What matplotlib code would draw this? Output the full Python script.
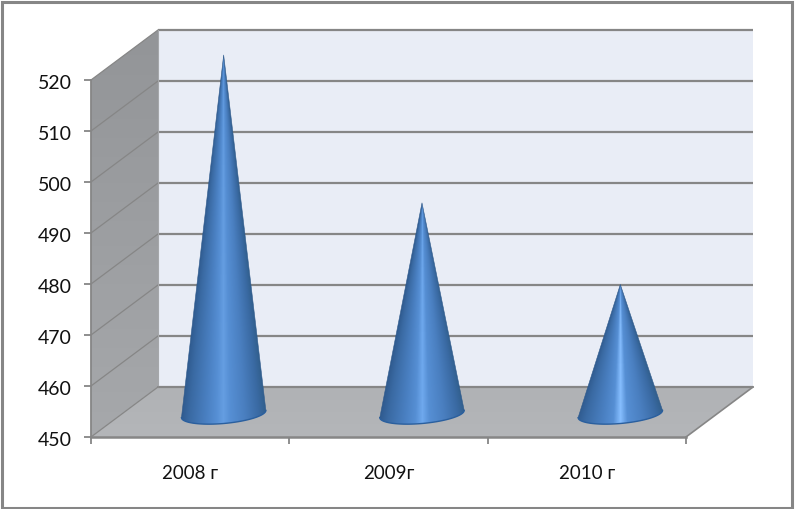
"""3D-look cone chart for 2008-2010, drawn on a flat axes with a depth shift."""

import numpy as np

import matplotlib

matplotlib.use("Agg")
import matplotlib.pyplot as plt
from matplotlib.colors import LinearSegmentedColormap
from matplotlib.patches import Polygon, Rectangle
from matplotlib.transforms import ScaledTranslation

plt.rcParams["font.family"] = ["Lato", "Open Sans", "DejaVu Sans"]

categories = ["2008 г", "2009г", "2010 г"]
values = [520, 491, 475]
value_ticks = [450, 460, 470, 480, 490, 500, 510, 520]
bright = ["#659ee2", "#6fa9ee", "#86beff"]

W, H = 795, 510
X0, Y0 = 91, 438          # pixel of category 0 / value 450
PX_CAT, PX_VAL = 198.33, 5.1
DX, DY = 67 / PX_CAT, 50 / PX_VAL   # depth shift of the back wall
R_A, R_AY = 42.2 / PX_CAT, 3.6 / PX_VAL   # tilted base ellipse
R_B = 9.5 / PX_VAL
BASE_DROP = 2 / PX_VAL    # base centre sits a little in front of mid depth

GREY = "#868686"
N = len(categories)
V0 = value_ticks[0]
V1 = value_ticks[-1]


def gradient_fill(ax, pts, top, bottom, zorder):
    # vertical gradient clipped to a polygon
    pts = np.array(pts)
    cmap = LinearSegmentedColormap.from_list("g", [top, bottom])
    im = ax.imshow(np.linspace(0, 1, 64)[:, None], cmap=cmap, aspect="auto",
                   origin="upper", zorder=zorder,
                   extent=(pts[:, 0].min(), pts[:, 0].max(), pts[:, 1].min(), pts[:, 1].max()))
    patch = Polygon(pts, closed=True, transform=ax.transData, fc="none", ec="none")
    ax.add_patch(patch)
    im.set_clip_path(patch)


def cone(ax, i, value, light):
    cx = i + 0.5 + DX / 2
    base = V0 + DY / 2 - BASE_DROP
    tip = value + DY / 2
    t = np.linspace(0, np.pi, 60)
    ex = cx + R_A * np.cos(t)
    ey = base + R_AY * np.cos(t) - R_B * np.sin(t)
    outline = np.vstack([[cx, tip], np.column_stack([ex, ey]), [cx, tip]])

    xs = np.linspace(cx - R_A * 1.05, cx + R_A * 1.05, 220)
    ys = np.linspace(base - R_B * 1.2, tip, 500)
    gx, gy = np.meshgrid(xs, ys)
    # stripes run from the tip down to the base, so shade by the slope from the tip
    u = (gx - cx) / np.maximum((tip - gy) / (tip - base), 1e-3) / R_A
    cmap = LinearSegmentedColormap.from_list("cone", [
        (0.0, "#2f5a8e"), (0.1, "#3a6aa3"), (0.3, "#4a80c2"),
        (0.42, "#568fd4"), (0.5, light), (0.58, "#568fd4"),
        (0.75, "#4a7fc0"), (0.92, "#3a6aa3"), (1.0, "#32608f")])
    im = ax.imshow(np.clip((u + 1) / 2, 0, 1), cmap=cmap, vmin=0, vmax=1, aspect="auto",
                   origin="lower", zorder=5,
                   extent=(xs[0], xs[-1], ys[0], ys[-1]))
    patch = Polygon(outline, closed=True, transform=ax.transData, fc="none", ec="none")
    ax.add_patch(patch)
    im.set_clip_path(patch)
    ax.plot(ex, ey, color="#2a5f9e", lw=1.0, zorder=6)
    ax.plot([ex[0], cx, ex[-1]], [ey[0], tip, ey[-1]], color="#2f5a8c", lw=0.4, zorder=6)


fig = plt.figure(figsize=(W / 100, H / 100), dpi=100)
ax = fig.add_axes([0, 0, 1, 1])
ax.patch.set_alpha(0)

# walls and floor
top = V1 + DY
gradient_fill(ax, [(DX, V0 + DY), (N + DX, V0 + DY), (N + DX, top), (DX, top)],
              "#e9edf6", "#e9edf6", 1)
gradient_fill(ax, [(0, V0), (DX, V0 + DY), (DX, top), (0, V1)], "#939598", "#a6a8ab", 1)
gradient_fill(ax, [(0, V0), (N, V0), (N + DX, V0 + DY), (DX, V0 + DY)], "#b0b2b5", "#b4b6b9", 1)

# gridlines
for v in value_ticks:
    ax.plot([DX, N + DX], [v + DY, v + DY], color=GREY, lw=1.6, zorder=2, solid_capstyle="butt")
    ax.plot([0, DX], [v, v + DY], color=GREY, lw=0.9, zorder=2)
ax.plot([DX, DX], [V0 + DY, top], color="#a5a7aa", lw=0.8, zorder=2)
ax.plot([DX, N + DX], [V0 + DY, V0 + DY], color=GREY, lw=1.2, zorder=2)
ax.plot([N, N + DX], [V0, V0 + DY], color=GREY, lw=1.2, zorder=2)

for i, (v, light) in enumerate(zip(values, bright)):
    cone(ax, i, v, light)

ax.set_xlim(-X0 / PX_CAT, (W - X0) / PX_CAT)
ax.set_ylim(V0 + (Y0 - H) / PX_VAL, V0 + Y0 / PX_VAL)

# real axes, moved into the figure
for name in ("top", "right"):
    ax.spines[name].set_visible(False)
ax.spines["left"].set_position(("data", 0))
ax.spines["bottom"].set_position(("data", V0))
ax.spines["left"].set_bounds(V0, V1)
ax.spines["bottom"].set_bounds(0, N)
ax.spines["left"].set_color(GREY)
ax.spines["bottom"].set_color(GREY)
ax.spines["left"].set_linewidth(1.3)
ax.spines["bottom"].set_linewidth(1.8)
ax.spines["left"].set_zorder(3)
ax.spines["bottom"].set_zorder(3)

ax.set_yticks(value_ticks)
ax.set_xticks(range(N + 1))
ax.set_xticklabels([])
ax.set_xticks([i + 0.5 for i in range(N)], minor=True)
ax.set_xticklabels(categories, minor=True)
ax.tick_params(axis="y", length=5, width=1.3, color=GREY, pad=9, labelsize=14, labelcolor="#111111")
ax.tick_params(axis="x", which="major", length=5, width=1.3, color=GREY)
ax.tick_params(axis="x", which="minor", length=0, pad=19.7, labelsize=13.5, labelcolor="#111111")

shift = ScaledTranslation(0, -1 / 72, fig.dpi_scale_trans)
for label in ax.get_yticklabels():
    label.set_transform(label.get_transform() + shift)

# chart frame
fig.add_artist(Rectangle((1.5 / W, 1.5 / H), (W - 4.5) / W, (H - 4) / H, transform=fig.transFigure,
                         fc="none", ec=GREY, lw=2.2))

fig.savefig("out.png", dpi=100)
